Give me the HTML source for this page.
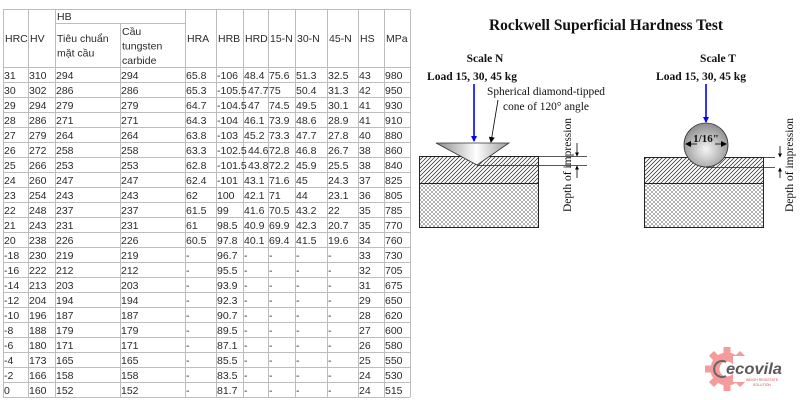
<!DOCTYPE html>
<html><head><meta charset="utf-8"><style>
html,body{margin:0;padding:0;background:#fff;}
svg{display:block;}
.t{font-family:"Liberation Sans",Arial,sans-serif;font-size:10.5px;fill:#2a2a2a;}
.tm{font-family:"Liberation Serif","Times New Roman",serif;fill:#111;}
</style></head><body>
<svg width="800" height="400" viewBox="0 0 800 400" xmlns="http://www.w3.org/2000/svg">
<defs>
<pattern id="hatch" patternUnits="userSpaceOnUse" width="4" height="4">
<path d="M0,4 L4,0 M-1,1 L1,-1 M3,5 L5,3" stroke="#222" stroke-width="0.7"/>
</pattern>
<pattern id="cross" patternUnits="userSpaceOnUse" width="4" height="4">
<path d="M0,4 L4,0 M-1,1 L1,-1 M3,5 L5,3 M0,0 L4,4 M-1,3 L1,5 M3,-1 L5,1" stroke="#666" stroke-width="0.5"/>
</pattern>
<linearGradient id="cone" x1="0" y1="0" x2="1" y2="0">
<stop offset="0" stop-color="#8a8a8a"/><stop offset="0.55" stop-color="#ffffff"/><stop offset="1" stop-color="#9a9a9a"/>
</linearGradient>
<radialGradient id="ball" cx="0.5" cy="0.6" r="0.6">
<stop offset="0" stop-color="#f4f4f4"/><stop offset="1" stop-color="#8c8c8c"/>
</radialGradient>
<marker id="bh" markerWidth="6" markerHeight="6" refX="5" refY="3" orient="auto" markerUnits="userSpaceOnUse"><path d="M0,0 L6,3 L0,6 z" fill="#0000ff"/></marker>
<marker id="kh" markerWidth="6" markerHeight="6" refX="5" refY="3" orient="auto" markerUnits="userSpaceOnUse"><path d="M0,0 L6,3 L0,6 z" fill="#000"/></marker>
<marker id="sh" markerWidth="4" markerHeight="4" refX="3.5" refY="2" orient="auto" markerUnits="userSpaceOnUse"><path d="M0,0 L4,2 L0,4 z" fill="#000"/></marker>
</defs>

<!-- TABLE GRID -->
<g stroke="#bdbdbd" stroke-width="1" fill="none">
<line x1="3" y1="9.5" x2="410" y2="9.5"/>
<line x1="55" y1="23.5" x2="185" y2="23.5"/>
<line x1="3" y1="67.5" x2="410" y2="67.5"/>
<line x1="3" y1="82.5" x2="410" y2="82.5"/>
<line x1="3" y1="97.5" x2="410" y2="97.5"/>
<line x1="3" y1="112.5" x2="410" y2="112.5"/>
<line x1="3" y1="127.5" x2="410" y2="127.5"/>
<line x1="3" y1="142.5" x2="410" y2="142.5"/>
<line x1="3" y1="157.5" x2="410" y2="157.5"/>
<line x1="3" y1="172.5" x2="410" y2="172.5"/>
<line x1="3" y1="187.5" x2="410" y2="187.5"/>
<line x1="3" y1="202.5" x2="410" y2="202.5"/>
<line x1="3" y1="217.5" x2="410" y2="217.5"/>
<line x1="3" y1="232.5" x2="410" y2="232.5"/>
<line x1="3" y1="247.5" x2="410" y2="247.5"/>
<line x1="3" y1="262.5" x2="410" y2="262.5"/>
<line x1="3" y1="277.5" x2="410" y2="277.5"/>
<line x1="3" y1="292.5" x2="410" y2="292.5"/>
<line x1="3" y1="307.5" x2="410" y2="307.5"/>
<line x1="3" y1="322.5" x2="410" y2="322.5"/>
<line x1="3" y1="337.5" x2="410" y2="337.5"/>
<line x1="3" y1="352.5" x2="410" y2="352.5"/>
<line x1="3" y1="367.5" x2="410" y2="367.5"/>
<line x1="3" y1="382.5" x2="410" y2="382.5"/>
<line x1="3" y1="397.5" x2="410" y2="397.5"/>
<line x1="3.5" y1="9" x2="3.5" y2="397"/>
<line x1="28.5" y1="9" x2="28.5" y2="397"/>
<line x1="55.5" y1="9" x2="55.5" y2="397"/>
<line x1="120.5" y1="23" x2="120.5" y2="397"/>
<line x1="185.5" y1="9" x2="185.5" y2="397"/>
<line x1="216.5" y1="9" x2="216.5" y2="397"/>
<line x1="243.5" y1="9" x2="243.5" y2="397"/>
<line x1="268.5" y1="9" x2="268.5" y2="397"/>
<line x1="295.5" y1="9" x2="295.5" y2="397"/>
<line x1="327.5" y1="9" x2="327.5" y2="397"/>
<line x1="358.5" y1="9" x2="358.5" y2="397"/>
<line x1="384.5" y1="9" x2="384.5" y2="397"/>
<line x1="410.5" y1="9" x2="410.5" y2="397"/>
</g>

<!-- HEADER -->
<g class="t">
<text x="5" y="42">HRC</text>
<text x="30" y="42">HV</text>
<text x="57" y="20">HB</text>
<text x="57" y="42">Tiêu chuẩn</text>
<text x="57" y="56.5">mặt cầu</text>
<text x="122" y="35">Cầu</text>
<text x="122" y="49.5">tungsten</text>
<text x="122" y="64">carbide</text>
<text x="187" y="42">HRA</text>
<text x="218" y="42">HRB</text>
<text x="245" y="42">HRD</text>
<text x="270" y="42">15-N</text>
<text x="297" y="42">30-N</text>
<text x="329" y="42">45-N</text>
<text x="360" y="42">HS</text>
<text x="386" y="42">MPa</text>
</g>

<!-- ROWS -->
<g class="t">
<text y="79"><tspan x="4">31</tspan><tspan x="29">310</tspan><tspan x="56">294</tspan><tspan x="121">294</tspan><tspan x="186">65.8</tspan><tspan x="217">-106</tspan><tspan x="244">48.4</tspan><tspan x="269">75.6</tspan><tspan x="296">51.3</tspan><tspan x="328">32.5</tspan><tspan x="359">43</tspan><tspan x="385">980</tspan></text>
<text y="94"><tspan x="4">30</tspan><tspan x="29">302</tspan><tspan x="56">286</tspan><tspan x="121">286</tspan><tspan x="186">65.3</tspan><tspan x="217">-105.5</tspan><tspan x="248">47.7</tspan><tspan x="269">75</tspan><tspan x="296">50.4</tspan><tspan x="328">31.3</tspan><tspan x="359">42</tspan><tspan x="385">950</tspan></text>
<text y="109"><tspan x="4">29</tspan><tspan x="29">294</tspan><tspan x="56">279</tspan><tspan x="121">279</tspan><tspan x="186">64.7</tspan><tspan x="217">-104.5</tspan><tspan x="248">47</tspan><tspan x="269">74.5</tspan><tspan x="296">49.5</tspan><tspan x="328">30.1</tspan><tspan x="359">41</tspan><tspan x="385">930</tspan></text>
<text y="124"><tspan x="4">28</tspan><tspan x="29">286</tspan><tspan x="56">271</tspan><tspan x="121">271</tspan><tspan x="186">64.3</tspan><tspan x="217">-104</tspan><tspan x="244">46.1</tspan><tspan x="269">73.9</tspan><tspan x="296">48.6</tspan><tspan x="328">28.9</tspan><tspan x="359">41</tspan><tspan x="385">910</tspan></text>
<text y="139"><tspan x="4">27</tspan><tspan x="29">279</tspan><tspan x="56">264</tspan><tspan x="121">264</tspan><tspan x="186">63.8</tspan><tspan x="217">-103</tspan><tspan x="244">45.2</tspan><tspan x="269">73.3</tspan><tspan x="296">47.7</tspan><tspan x="328">27.8</tspan><tspan x="359">40</tspan><tspan x="385">880</tspan></text>
<text y="154"><tspan x="4">26</tspan><tspan x="29">272</tspan><tspan x="56">258</tspan><tspan x="121">258</tspan><tspan x="186">63.3</tspan><tspan x="217">-102.5</tspan><tspan x="248">44.6</tspan><tspan x="269">72.8</tspan><tspan x="296">46.8</tspan><tspan x="328">26.7</tspan><tspan x="359">38</tspan><tspan x="385">860</tspan></text>
<text y="169"><tspan x="4">25</tspan><tspan x="29">266</tspan><tspan x="56">253</tspan><tspan x="121">253</tspan><tspan x="186">62.8</tspan><tspan x="217">-101.5</tspan><tspan x="248">43.8</tspan><tspan x="269">72.2</tspan><tspan x="296">45.9</tspan><tspan x="328">25.5</tspan><tspan x="359">38</tspan><tspan x="385">840</tspan></text>
<text y="184"><tspan x="4">24</tspan><tspan x="29">260</tspan><tspan x="56">247</tspan><tspan x="121">247</tspan><tspan x="186">62.4</tspan><tspan x="217">-101</tspan><tspan x="244">43.1</tspan><tspan x="269">71.6</tspan><tspan x="296">45</tspan><tspan x="328">24.3</tspan><tspan x="359">37</tspan><tspan x="385">825</tspan></text>
<text y="199"><tspan x="4">23</tspan><tspan x="29">254</tspan><tspan x="56">243</tspan><tspan x="121">243</tspan><tspan x="186">62</tspan><tspan x="217">100</tspan><tspan x="244">42.1</tspan><tspan x="269">71</tspan><tspan x="296">44</tspan><tspan x="328">23.1</tspan><tspan x="359">36</tspan><tspan x="385">805</tspan></text>
<text y="214"><tspan x="4">22</tspan><tspan x="29">248</tspan><tspan x="56">237</tspan><tspan x="121">237</tspan><tspan x="186">61.5</tspan><tspan x="217">99</tspan><tspan x="244">41.6</tspan><tspan x="269">70.5</tspan><tspan x="296">43.2</tspan><tspan x="328">22</tspan><tspan x="359">35</tspan><tspan x="385">785</tspan></text>
<text y="229"><tspan x="4">21</tspan><tspan x="29">243</tspan><tspan x="56">231</tspan><tspan x="121">231</tspan><tspan x="186">61</tspan><tspan x="217">98.5</tspan><tspan x="244">40.9</tspan><tspan x="269">69.9</tspan><tspan x="296">42.3</tspan><tspan x="328">20.7</tspan><tspan x="359">35</tspan><tspan x="385">770</tspan></text>
<text y="244"><tspan x="4">20</tspan><tspan x="29">238</tspan><tspan x="56">226</tspan><tspan x="121">226</tspan><tspan x="186">60.5</tspan><tspan x="217">97.8</tspan><tspan x="244">40.1</tspan><tspan x="269">69.4</tspan><tspan x="296">41.5</tspan><tspan x="328">19.6</tspan><tspan x="359">34</tspan><tspan x="385">760</tspan></text>
<text y="259"><tspan x="4">-18</tspan><tspan x="29">230</tspan><tspan x="56">219</tspan><tspan x="121">219</tspan><tspan x="186">-</tspan><tspan x="217">96.7</tspan><tspan x="244">-</tspan><tspan x="269">-</tspan><tspan x="296">-</tspan><tspan x="328">-</tspan><tspan x="359">33</tspan><tspan x="385">730</tspan></text>
<text y="274"><tspan x="4">-16</tspan><tspan x="29">222</tspan><tspan x="56">212</tspan><tspan x="121">212</tspan><tspan x="186">-</tspan><tspan x="217">95.5</tspan><tspan x="244">-</tspan><tspan x="269">-</tspan><tspan x="296">-</tspan><tspan x="328">-</tspan><tspan x="359">32</tspan><tspan x="385">705</tspan></text>
<text y="289"><tspan x="4">-14</tspan><tspan x="29">213</tspan><tspan x="56">203</tspan><tspan x="121">203</tspan><tspan x="186">-</tspan><tspan x="217">93.9</tspan><tspan x="244">-</tspan><tspan x="269">-</tspan><tspan x="296">-</tspan><tspan x="328">-</tspan><tspan x="359">31</tspan><tspan x="385">675</tspan></text>
<text y="304"><tspan x="4">-12</tspan><tspan x="29">204</tspan><tspan x="56">194</tspan><tspan x="121">194</tspan><tspan x="186">-</tspan><tspan x="217">92.3</tspan><tspan x="244">-</tspan><tspan x="269">-</tspan><tspan x="296">-</tspan><tspan x="328">-</tspan><tspan x="359">29</tspan><tspan x="385">650</tspan></text>
<text y="319"><tspan x="4">-10</tspan><tspan x="29">196</tspan><tspan x="56">187</tspan><tspan x="121">187</tspan><tspan x="186">-</tspan><tspan x="217">90.7</tspan><tspan x="244">-</tspan><tspan x="269">-</tspan><tspan x="296">-</tspan><tspan x="328">-</tspan><tspan x="359">28</tspan><tspan x="385">620</tspan></text>
<text y="334"><tspan x="4">-8</tspan><tspan x="29">188</tspan><tspan x="56">179</tspan><tspan x="121">179</tspan><tspan x="186">-</tspan><tspan x="217">89.5</tspan><tspan x="244">-</tspan><tspan x="269">-</tspan><tspan x="296">-</tspan><tspan x="328">-</tspan><tspan x="359">27</tspan><tspan x="385">600</tspan></text>
<text y="349"><tspan x="4">-6</tspan><tspan x="29">180</tspan><tspan x="56">171</tspan><tspan x="121">171</tspan><tspan x="186">-</tspan><tspan x="217">87.1</tspan><tspan x="244">-</tspan><tspan x="269">-</tspan><tspan x="296">-</tspan><tspan x="328">-</tspan><tspan x="359">26</tspan><tspan x="385">580</tspan></text>
<text y="364"><tspan x="4">-4</tspan><tspan x="29">173</tspan><tspan x="56">165</tspan><tspan x="121">165</tspan><tspan x="186">-</tspan><tspan x="217">85.5</tspan><tspan x="244">-</tspan><tspan x="269">-</tspan><tspan x="296">-</tspan><tspan x="328">-</tspan><tspan x="359">25</tspan><tspan x="385">550</tspan></text>
<text y="379"><tspan x="4">-2</tspan><tspan x="29">166</tspan><tspan x="56">158</tspan><tspan x="121">158</tspan><tspan x="186">-</tspan><tspan x="217">83.5</tspan><tspan x="244">-</tspan><tspan x="269">-</tspan><tspan x="296">-</tspan><tspan x="328">-</tspan><tspan x="359">24</tspan><tspan x="385">530</tspan></text>
<text y="394"><tspan x="4">0</tspan><tspan x="29">160</tspan><tspan x="56">152</tspan><tspan x="121">152</tspan><tspan x="186">-</tspan><tspan x="217">81.7</tspan><tspan x="244">-</tspan><tspan x="269">-</tspan><tspan x="296">-</tspan><tspan x="328">-</tspan><tspan x="359">24</tspan><tspan x="385">515</tspan></text>
</g>

<!-- DIAGRAM -->
<text class="tm" x="606" y="30" text-anchor="middle" font-size="16" font-weight="bold" textLength="234" lengthAdjust="spacingAndGlyphs">Rockwell Superficial Hardness Test</text>

<!-- Scale N -->
<text class="tm" x="485" y="62" text-anchor="middle" font-size="11.5" font-weight="bold">Scale N</text>
<text class="tm" x="472" y="80" text-anchor="middle" font-size="11.5" font-weight="bold" textLength="90" lengthAdjust="spacingAndGlyphs">Load 15, 30, 45 kg</text>
<text class="tm" x="546" y="95" text-anchor="middle" font-size="11.5" textLength="118" lengthAdjust="spacingAndGlyphs">Spherical diamond-tipped</text>
<text class="tm" x="546" y="110" text-anchor="middle" font-size="11.5" textLength="86" lengthAdjust="spacingAndGlyphs">cone of 120° angle</text>

<rect x="419.5" y="156.5" width="119" height="27" fill="url(#hatch)" stroke="#222" stroke-width="1"/>
<rect x="419.5" y="183.5" width="119" height="44" fill="url(#cross)" stroke="#222" stroke-width="1"/>
<polygon points="436,143 509,143 477,165" fill="url(#cone)" stroke="#333" stroke-width="0.8"/>
<line x1="538" y1="156.5" x2="587" y2="156.5" stroke="#222" stroke-width="0.8"/>
<line x1="477" y1="165.5" x2="587" y2="165.5" stroke="#222" stroke-width="0.8"/>
<line x1="577" y1="143" x2="577" y2="156" stroke="#000" stroke-width="0.8" marker-end="url(#sh)"/>
<line x1="577" y1="178" x2="577" y2="166" stroke="#000" stroke-width="0.8" marker-end="url(#sh)"/>
<line x1="474" y1="84" x2="474" y2="141" stroke="#0000ff" stroke-width="1.6" marker-end="url(#bh)"/>
<line x1="498" y1="100" x2="491" y2="142" stroke="#000" stroke-width="0.8" marker-end="url(#kh)"/>
<text class="tm" transform="translate(571,165) rotate(-90)" text-anchor="middle" font-size="12" textLength="94" lengthAdjust="spacingAndGlyphs">Depth of impression</text>

<!-- Scale T -->
<text class="tm" x="718" y="62" text-anchor="middle" font-size="11.5" font-weight="bold">Scale T</text>
<text class="tm" x="701" y="80" text-anchor="middle" font-size="11.5" font-weight="bold" textLength="90" lengthAdjust="spacingAndGlyphs">Load 15, 30, 45 kg</text>

<rect x="644.5" y="157.5" width="119" height="26" fill="url(#hatch)" stroke="#222" stroke-width="1"/>
<rect x="644.5" y="183.5" width="119" height="44" fill="url(#cross)" stroke="#222" stroke-width="1"/>
<circle cx="706" cy="145" r="22" fill="url(#ball)" stroke="#333" stroke-width="0.8"/>
<line x1="763" y1="157.5" x2="775" y2="157.5" stroke="#222" stroke-width="0.8"/>
<line x1="706" y1="167.5" x2="775" y2="167.5" stroke="#222" stroke-width="0.8"/>
<line x1="780" y1="146" x2="780" y2="157" stroke="#000" stroke-width="0.8" marker-end="url(#sh)"/>
<line x1="780" y1="178" x2="780" y2="168" stroke="#000" stroke-width="0.8" marker-end="url(#sh)"/>
<line x1="706" y1="84" x2="706" y2="122" stroke="#0000ff" stroke-width="1.6" marker-end="url(#bh)"/>
<line x1="697" y1="144" x2="686" y2="144" stroke="#000" stroke-width="0.8" marker-end="url(#kh)"/>
<line x1="715" y1="144" x2="726" y2="144" stroke="#000" stroke-width="0.8" marker-end="url(#kh)"/>
<text class="tm" x="706" y="142" text-anchor="middle" font-size="11" font-weight="bold">1/16"</text>
<text class="tm" transform="translate(793,165) rotate(-90)" text-anchor="middle" font-size="12" textLength="94" lengthAdjust="spacingAndGlyphs">Depth of impression</text>

<!-- LOGO -->
<g fill="#f48a8a" opacity="0.85">
<g transform="translate(727,369)">
<rect x="-3.5" y="-22" width="7" height="8"/>
<rect x="-3.5" y="-22" width="7" height="8" transform="rotate(45)"/>
<rect x="-3.5" y="-22" width="7" height="8" transform="rotate(-45)"/>
<rect x="-3.5" y="-22" width="7" height="8" transform="rotate(-90)"/>
<rect x="-3.5" y="-22" width="7" height="8" transform="rotate(-135)"/>
<rect x="-3.5" y="-22" width="7" height="8" transform="rotate(180)"/>
<rect x="-3.5" y="-22" width="7" height="8" transform="rotate(135)"/>
<circle r="12" fill="none" stroke="#f48a8a" stroke-width="9"/>
</g>
</g>
<rect x="733" y="356" width="22" height="26" fill="#fff"/>
<path d="M726,362 A8,8 0 1,0 726,376" fill="none" stroke="#666" stroke-width="2"/>
<text x="726" y="374" font-family="Liberation Sans,sans-serif" font-size="16" font-weight="bold" font-style="italic" fill="#5a5a5a" textLength="56" lengthAdjust="spacingAndGlyphs">ecovila</text>
<text x="762" y="381" text-anchor="middle" font-family="Liberation Sans,sans-serif" font-size="3.5" fill="#c55">WEIGH REGISTATE</text>
<text x="762" y="386" text-anchor="middle" font-family="Liberation Sans,sans-serif" font-size="3.5" fill="#c55">SOLUTION</text>
</svg>
</body></html>
